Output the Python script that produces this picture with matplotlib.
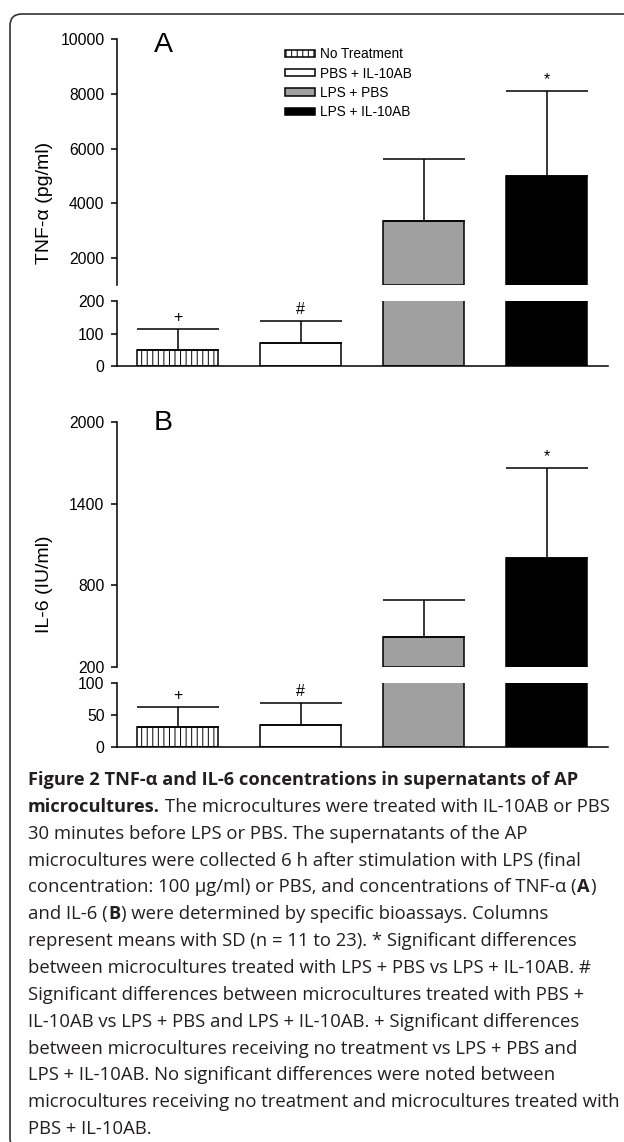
import matplotlib
matplotlib.use('Agg')
import matplotlib.pyplot as plt
from matplotlib.patches import FancyBboxPatch
from matplotlib.transforms import IdentityTransform
import numpy as np

# ---------------- data ----------------
groups = ['No Treatment', 'PBS + IL-10AB', 'LPS + PBS', 'LPS + IL-10AB']
tnf_mean = [50, 70, 3350, 5000]
tnf_sd = [65, 69, 2260, 3100]
il6_mean = [31, 34, 420, 1000]
il6_sd = [32, 35, 270, 663]
marks = ['+', '#', '', '*']
tnf_upper_ticks = [2000, 4000, 6000, 8000, 10000]
tnf_lower_ticks = [0, 100, 200]
il6_upper_ticks = [200, 800, 1400, 2000]
il6_lower_ticks = [0, 50, 100]
tnf_ylabel = 'TNF-α (pg/ml)'
il6_ylabel = 'IL-6 (IU/ml)'
panel_letters = ['A', 'B']

caption_lines = [
    [("Figure 2 TNF-α and IL-6 concentrations in supernatants of AP", True)],
    [("microcultures.", True), (" ", None), ("The microcultures were treated with IL-10AB or PBS", False)],
    [("30 minutes before LPS or PBS. The supernatants of the AP", False)],
    [("microcultures were collected 6 h after stimulation with LPS (final", False)],
    [("concentration: 100 µg/ml) or PBS, and concentrations of TNF-α (", False), ("A", True), (")", False)],
    [("and IL-6 (", False), ("B", True), (") were determined by specific bioassays. Columns", False)],
    [("represent means with SD (n = 11 to 23). * Significant differences", False)],
    [("between microcultures treated with LPS + PBS vs LPS + IL-10AB. #", False)],
    [("Significant differences between microcultures treated with PBS +", False)],
    [("IL-10AB vs LPS + PBS and LPS + IL-10AB. + Significant differences", False)],
    [("between microcultures receiving no treatment vs LPS + PBS and", False)],
    [("LPS + IL-10AB. No significant differences were noted between", False)],
    [("microcultures receiving no treatment and microcultures treated with", False)],
    [("PBS + IL-10AB.", False)],
]

# ---------------- style ----------------
W, H = 624, 1142
plt.rcParams['font.family'] = ['Liberation Sans', 'DejaVu Sans']
plt.rcParams['hatch.linewidth'] = 0.7
face = ['white', 'white', '#a0a0a0', 'black']
hatches = ['|||', '', '', '']
LW = 1.1

fig = plt.figure(figsize=(W / 100, H / 100), dpi=100)
fig.patch.set_facecolor('white')


def fy(px):
    return 1 - px / H


L = 116.5 / W
WD = (608 - 116.5) / W
x = np.arange(len(groups))
bw = 0.66


def make_panel(up_px, lo_px, up_lim, lo_lim, mean, sd, up_ticks, lo_ticks, ylabel, letter, letter_base):
    ax_up = fig.add_axes([L, fy(up_px[0]), WD, (up_px[0] - up_px[1]) / H])
    ax_lo = fig.add_axes([L, fy(lo_px[0]), WD, (lo_px[0] - lo_px[1]) / H])
    mean = np.asarray(mean, float)
    sd = np.asarray(sd, float)
    for ax, lim, ticks in ((ax_up, up_lim, up_ticks), (ax_lo, lo_lim, lo_ticks)):
        ax.set_xlim(-0.5, len(groups) - 0.5)
        ax.set_ylim(*lim)
        ax.set_yticks(ticks)
        ax.set_xticks([])
        for s in ('top', 'right'):
            ax.spines[s].set_visible(False)
        ax.spines['left'].set_linewidth(LW)
        ax.spines['bottom'].set_linewidth(LW)
        ax.tick_params(axis='y', labelsize=11.3, length=4.3, width=LW, pad=4.3)
        ax.patch.set_alpha(0)
    ax_up.spines['bottom'].set_visible(False)

    bars = ax_lo.bar(x, mean, width=bw, color=face, edgecolor='black', linewidth=LW,
                     hatch=hatches, zorder=2)
    sel = mean > up_lim[0]
    ax_up.bar(x[sel], mean[sel] - up_lim[0], bottom=up_lim[0], width=bw,
              color=[face[i] for i in np.where(sel)[0]], edgecolor='black', linewidth=LW, zorder=2)
    for ax in (ax_up, ax_lo):
        ax.errorbar(x, mean, yerr=[np.zeros_like(sd), sd], fmt='none', ecolor='black',
                    elinewidth=LW, capsize=29.5, capthick=LW, zorder=3)
    for i, m in enumerate(marks):
        if not m:
            continue
        top = mean[i] + sd[i]
        ax = ax_lo if top <= lo_lim[1] else ax_up
        ax.annotate(m, xy=(x[i], top), xytext=(0, 5), textcoords='offset points',
                    ha='center', va='baseline', fontsize=11.5, annotation_clip=False)
    yc = (up_px[1] + lo_px[0]) / 2
    fig.text(45 / W, fy(yc), ylabel, rotation=90, ha='center', va='center', fontsize=14)
    fig.text(163 / W, fy(letter_base), letter, ha='center', va='baseline', fontsize=20.5)
    return ax_up, ax_lo, bars


axA_up, axA_lo, barsA = make_panel((285.4, 39), (366, 301), (1000, 10000), (0, 200),
                                   tnf_mean, tnf_sd, tnf_upper_ticks, tnf_lower_ticks,
                                   tnf_ylabel, panel_letters[0], 52.5)
axB_up, axB_lo, barsB = make_panel((667, 422), (747, 683), (200, 2000), (0, 100),
                                   il6_mean, il6_sd, il6_upper_ticks, il6_lower_ticks,
                                   il6_ylabel, panel_letters[1], 430)

leg = axA_up.legend(handles=list(barsA), labels=groups, loc='upper left',
                    bbox_to_anchor=(285 / W, fy(47.5)), bbox_transform=fig.transFigure,
                    frameon=False, fontsize=9.8, borderpad=0, borderaxespad=0,
                    handlelength=2.2, handleheight=0.45, handletextpad=0.38,
                    labelspacing=0.38)

# ---------------- frame ----------------
frame = FancyBboxPatch((10, H - 1150), 640, 1150 - 14,
                       boxstyle='round,pad=0,rounding_size=12',
                       transform=IdentityTransform(), facecolor='none',
                       edgecolor='#333333', linewidth=1.2)
fig.add_artist(frame)

# ---------------- caption ----------------
renderer = fig.canvas.get_renderer()
cap_font = 'Open Sans'


def tw(s, size, bold):
    t = fig.text(0, 0, s, fontsize=size, family=cap_font,
                 fontweight='bold' if bold else 'normal')
    w = t.get_window_extent(renderer).width
    t.remove()
    return w


s0 = 10.0
size_b1 = s0 * 568 / tw(caption_lines[0][0][0], s0, True)
size_b2 = s0 * 128 / tw(caption_lines[1][0][0], s0, True)
size_b = (size_b1 + size_b2) / 2
size_r = s0 * 446 / tw(caption_lines[1][2][0], s0, False)
space_w = tw('a a', size_r, False) - tw('aa', size_r, False)

x0 = 28
base0 = 785
step = 26.85
for i, segs in enumerate(caption_lines):
    xx = x0
    yb = base0 + i * step
    for txt, bold in segs:
        if bold is None:
            xx += space_w
            continue
        t = fig.text(xx / W, fy(yb), txt, fontsize=size_b if bold else size_r, family=cap_font,
                     fontweight='bold' if bold else 'normal', ha='left', va='baseline',
                     color='#231f20')
        xx += t.get_window_extent(renderer).width + 0.6

fig.savefig('out.png', dpi=100, facecolor='white')
